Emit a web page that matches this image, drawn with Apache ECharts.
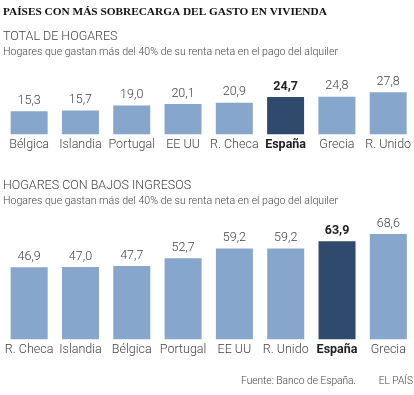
<!DOCTYPE html>
<html><head><meta charset="utf-8">
<script src="https://cdn.jsdelivr.net/npm/echarts@6/dist/echarts.min.js"></script>
<style>html,body{margin:0;padding:0;background:#fff}#c{width:414px;height:395px}</style>
</head><body><div id="c"></div>
<script>
const titleText = 'PAÍSES CON MÁS SOBRECARGA DEL GASTO EN VIVIENDA';
const sub1Title = 'TOTAL DE HOGARES';
const sub2Title = 'HOGARES CON BAJOS INGRESOS';
const subtitleText = 'Hogares que gastan más del 40% de su renta neta en el pago del alquiler';
const sourceText = 'Fuente: Banco de España.';
const brandText = 'EL PAÍS';

const cats1 = ['Bélgica','Islandia','Portugal','EE UU','R. Checa','España','Grecia','R. Unido'];
const vals1 = [15.3, 15.7, 19.0, 20.1, 20.9, 24.7, 24.8, 27.8];
const cats2 = ['R. Checa','Islandia','Bélgica','Portugal','EE UU','R. Unido','España','Grecia'];
const vals2 = [46.9, 47.0, 47.7, 52.7, 59.2, 59.2, 63.9, 68.6];
const highlight = 'España';

const LIGHT = '#87a6cc', DARK = '#2f4a6d';
const FONT = 'Roboto';

function mkData(cats, vals){
  return vals.map((v,i)=>{
    const hl = cats[i]===highlight;
    return {
      value: v,
      itemStyle: {color: hl ? DARK : LIGHT},
      label: hl ? {fontWeight: 'bold', color: '#222'} : {}
    };
  });
}
const fmt = p => p.value.toFixed(1).replace('.', ',');
const catLabel = {
  interval: 0, color: '#444', fontFamily: FONT, fontSize: 12.5, fontWeight: 300, margin: 4,
  formatter: v => v===highlight ? '{b|'+v+'}' : v,
  rich: {b: {fontWeight: 'bold', color: '#222', fontFamily: FONT, fontSize: 12.5}}
};
const valLabel = {show: true, position: 'top', distance: 4, formatter: fmt,
  color: '#444', fontFamily: FONT, fontSize: 12.5, fontWeight: 300};

const chart = echarts.init(document.getElementById('c'), null, {renderer: 'canvas'});
chart.setOption({
  animation: false,
  title: [
    {text: titleText, left: 3, top: 7, padding: 0, textStyle: {fontFamily: 'Liberation Serif', fontWeight: 'bold', fontSize: 11.3, color: '#111'}},
    {text: sub1Title, left: 3, top: 30, padding: 0, textStyle: {fontFamily: FONT, fontWeight: 300, fontSize: 12.5, color: '#444'}},
    {text: subtitleText, left: 3, top: 47, padding: 0, textStyle: {fontFamily: FONT, fontWeight: 300, fontSize: 10.6, color: '#444'}},
    {text: sub2Title, left: 3, top: 179, padding: 0, textStyle: {fontFamily: FONT, fontWeight: 300, fontSize: 12.5, color: '#444'}},
    {text: subtitleText, left: 3, top: 196, padding: 0, textStyle: {fontFamily: FONT, fontWeight: 300, fontSize: 10.6, color: '#444'}},
    {text: sourceText, right: 58, top: 376, padding: 0, textStyle: {fontFamily: FONT, fontWeight: 300, fontSize: 10.2, color: '#444'}},
    {text: brandText, right: 1, top: 376, padding: 0, textStyle: {fontFamily: FONT, fontWeight: 300, fontSize: 10.2, color: '#444'}}
  ],
  grid: [
    {left: 3.5, width: 411.7, top: 89, height: 45.3},
    {left: 3.5, width: 411.7, top: 231.8, height: 107.5}
  ],
  xAxis: [
    {type: 'category', gridIndex: 0, data: cats1, axisLine: {show: false}, axisTick: {show: false}, axisLabel: catLabel},
    {type: 'category', gridIndex: 1, data: cats2, axisLine: {show: false}, axisTick: {show: false}, axisLabel: catLabel}
  ],
  yAxis: [
    {type: 'value', gridIndex: 0, min: 0, max: 30, show: false},
    {type: 'value', gridIndex: 1, min: 0, max: 70, show: false}
  ],
  series: [
    {type: 'bar', xAxisIndex: 0, yAxisIndex: 0, barWidth: 37, data: mkData(cats1, vals1), label: valLabel},
    {type: 'bar', xAxisIndex: 1, yAxisIndex: 1, barWidth: 37, data: mkData(cats2, vals2), label: valLabel}
  ]
});
</script></body></html>
